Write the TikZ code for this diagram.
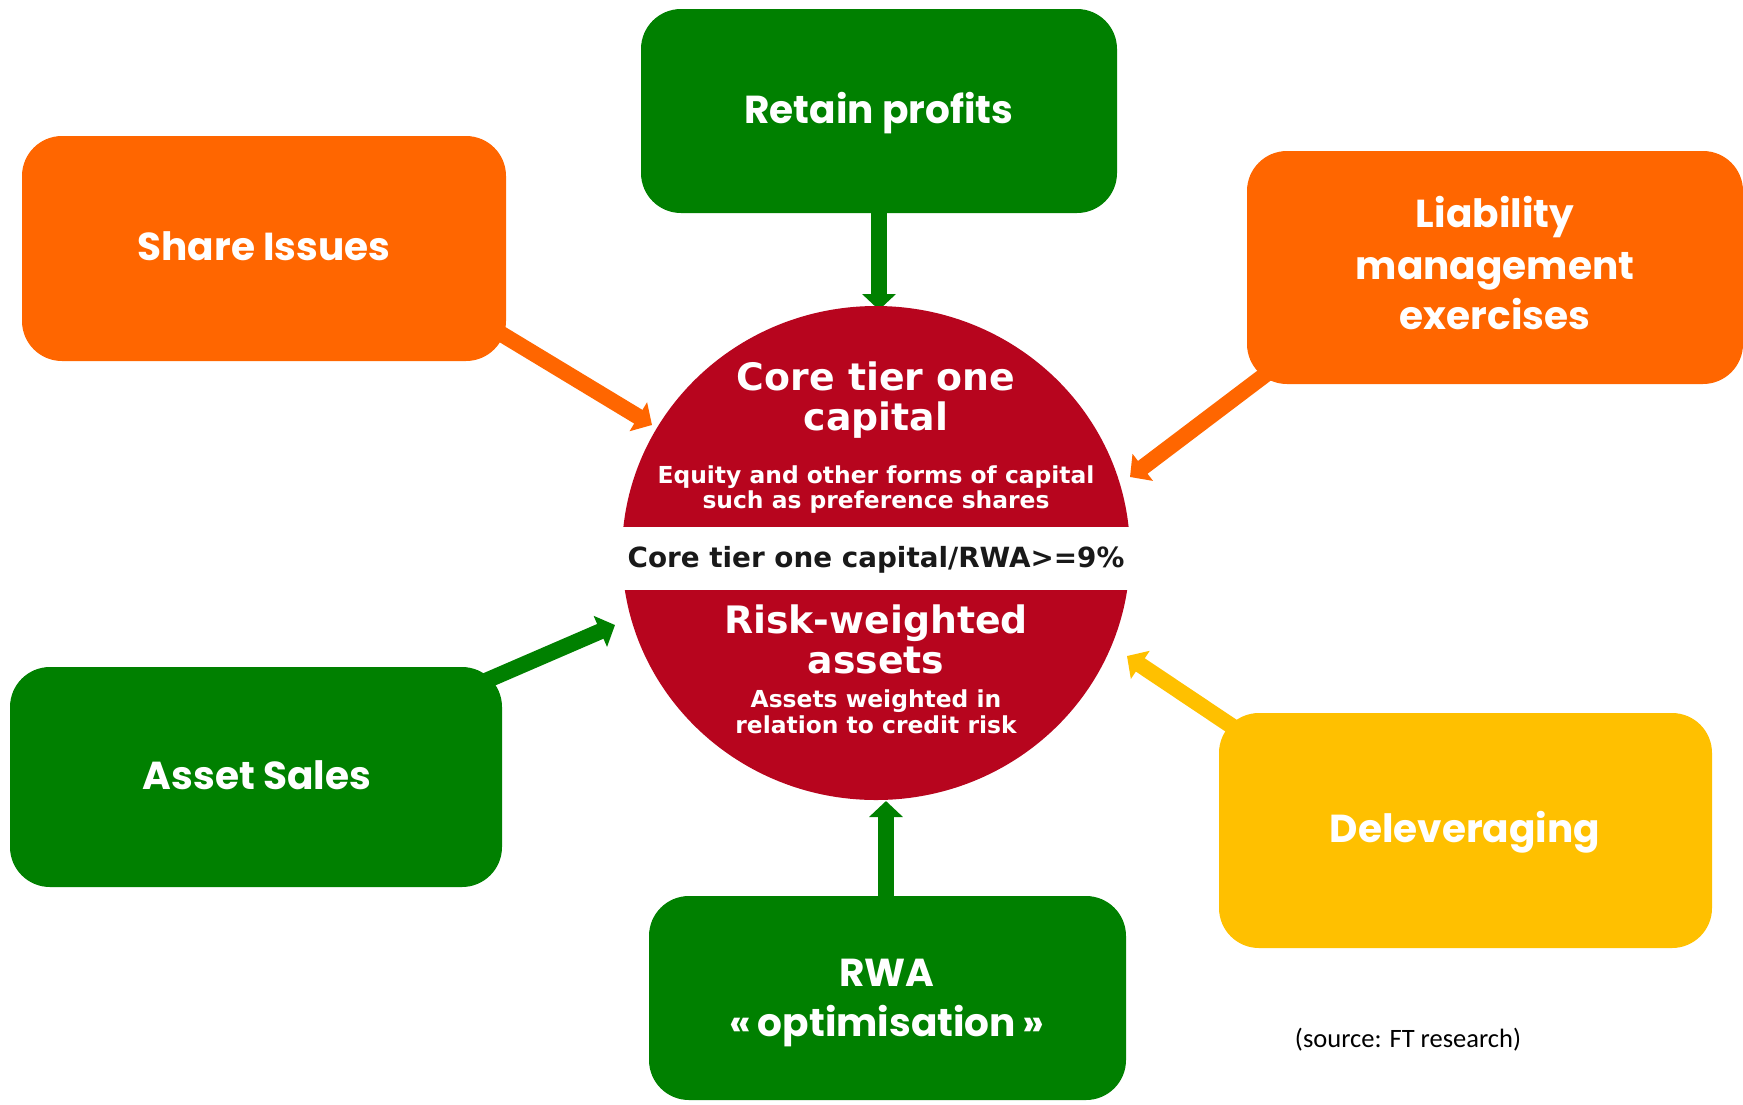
\documentclass[tikz,border=0pt]{standalone}
\usepackage{fontspec}
\usetikzlibrary{shapes.geometric,arrows.meta}
\newfontfamily\boxfont{Poppins}
\newfontfamily\circfont{DejaVu Sans}
\newfontfamily\srcfont{Carlito}
\definecolor{leafgreen}{RGB}{0,128,0}
\definecolor{boxorange}{RGB}{255,102,0}
\definecolor{boxyellow}{RGB}{255,192,0}
\definecolor{capred}{RGB}{183,5,30}
\definecolor{inkblack}{RGB}{25,25,25}
\pgfdeclarelayer{links}
\pgfsetlayers{links,main}
\begin{document}
\begin{tikzpicture}[x=1pt,y=-1pt,
  box/.style={rectangle, rounded corners=40pt, inner sep=0pt},
  boxtxt/.style={text=white, anchor=base, inner sep=0pt,
    font=\boxfont\bfseries\fontsize{39}{46}\selectfont},
  bigtxt/.style={text=white, anchor=base, inner sep=0pt,
    font=\circfont\bfseries\fontsize{37.8}{40}\selectfont},
  smalltxt/.style={text=white, anchor=base, inner sep=0pt,
    font=\circfont\bfseries\fontsize{23.4}{26}\selectfont},
  feed/.style={line width=16pt, -{Triangle[width=33pt,length=16pt]}}]

\useasboundingbox (0,0) rectangle (1743,1104);

% central capital ratio disc with its white band
\node[ellipse, fill=capred, minimum width=508pt, minimum height=494pt, inner sep=0pt] (core) at (876,553) {};
\fill[white] (600,527) rectangle (1152,590);

\node[bigtxt] (c1) at (876,390) {Core tier one};
\node[bigtxt] (c2) at (876,430) {capital};
\node[smalltxt] (c3) at (876,483) {Equity and other forms of capital};
\node[smalltxt] (c4) at (876,508) {such as preference shares};
\node[text=inkblack, anchor=base, inner sep=0pt,
  font=\circfont\bfseries\fontsize{27.8}{30}\selectfont] (ratio) at (876,567) {Core tier one capital/RWA>=9\%};
\node[bigtxt] (r1) at (876,633) {Risk-weighted};
\node[bigtxt] (r2) at (876,673) {assets};
\node[smalltxt] (r3) at (876,707) {Assets weighted in};
\node[smalltxt] (r4) at (876,733) {relation to credit risk};

% lever boxes
\node[box, fill=leafgreen, minimum width=476pt, minimum height=204pt] (retain) at (879,111) {};
\node[box, fill=boxorange, minimum width=484pt, minimum height=225pt] (share) at (264,248.5) {};
\node[box, fill=boxorange, minimum width=496pt, minimum height=233pt] (liab) at (1495,267.5) {};
\node[box, fill=leafgreen, minimum width=492pt, minimum height=220pt] (asset) at (256,777) {};
\node[box, fill=boxyellow, minimum width=493pt, minimum height=235pt] (delev) at (1465.5,830.5) {};
\node[box, fill=leafgreen, minimum width=477pt, minimum height=204pt] (rwa) at (887.5,998) {};

% arrow end points
\coordinate (retainTip) at (879,310);
\coordinate (rwaTip) at (886,801);
\coordinate (shareFrom) at (470,315);
\coordinate (shareTip) at (652,425);
\coordinate (liabFrom) at (1290,356);
\coordinate (liabTip) at (1130,477);
\coordinate (assetFrom) at (460,692);
\coordinate (assetTip) at (615,625);
\coordinate (delevFrom) at (1260,745);
\coordinate (delevTip) at (1127,656);

% arrows into the disc, kept beneath the boxes
\begin{pgfonlayer}{links}
\draw[feed, leafgreen] (retain.center |- retain.south) ++(0,-20) -- (retainTip);
\draw[feed, leafgreen] (rwa.north -| rwaTip) ++(0,20) -- (rwaTip);
\draw[feed, boxorange] (shareFrom) -- (shareTip);
\draw[feed, boxorange] (liabFrom) -- (liabTip);
\draw[feed, leafgreen] (assetFrom) -- (assetTip);
\draw[feed, boxyellow] (delevFrom) -- (delevTip);
\end{pgfonlayer}

% box labels
\node[boxtxt] (tRetain) at (879,123) {Retain profits};
\node[boxtxt] (tShare) at (264,260) {Share Issues};
\node[boxtxt] (tLiab1) at (1495,227) {Liability};
\node[boxtxt] (tLiab2) at (1495,279) {management};
\node[boxtxt] (tLiab3) at (1495,329) {exercises};
\node[boxtxt] (tAsset) at (257,789) {Asset Sales};
\node[boxtxt] (tDelev) at (1465,842) {Deleveraging};
\node[boxtxt] (tRwa1) at (887,986) {RWA};
\node[boxtxt] (tRwa2) at (887,1036) {«\,optimisation\,»};

\node[anchor=base, inner sep=0pt, font=\srcfont\fontsize{26.5}{30}\selectfont] (source) at (1408,1047) {(source: FT research)};
\end{tikzpicture}
\end{document}
